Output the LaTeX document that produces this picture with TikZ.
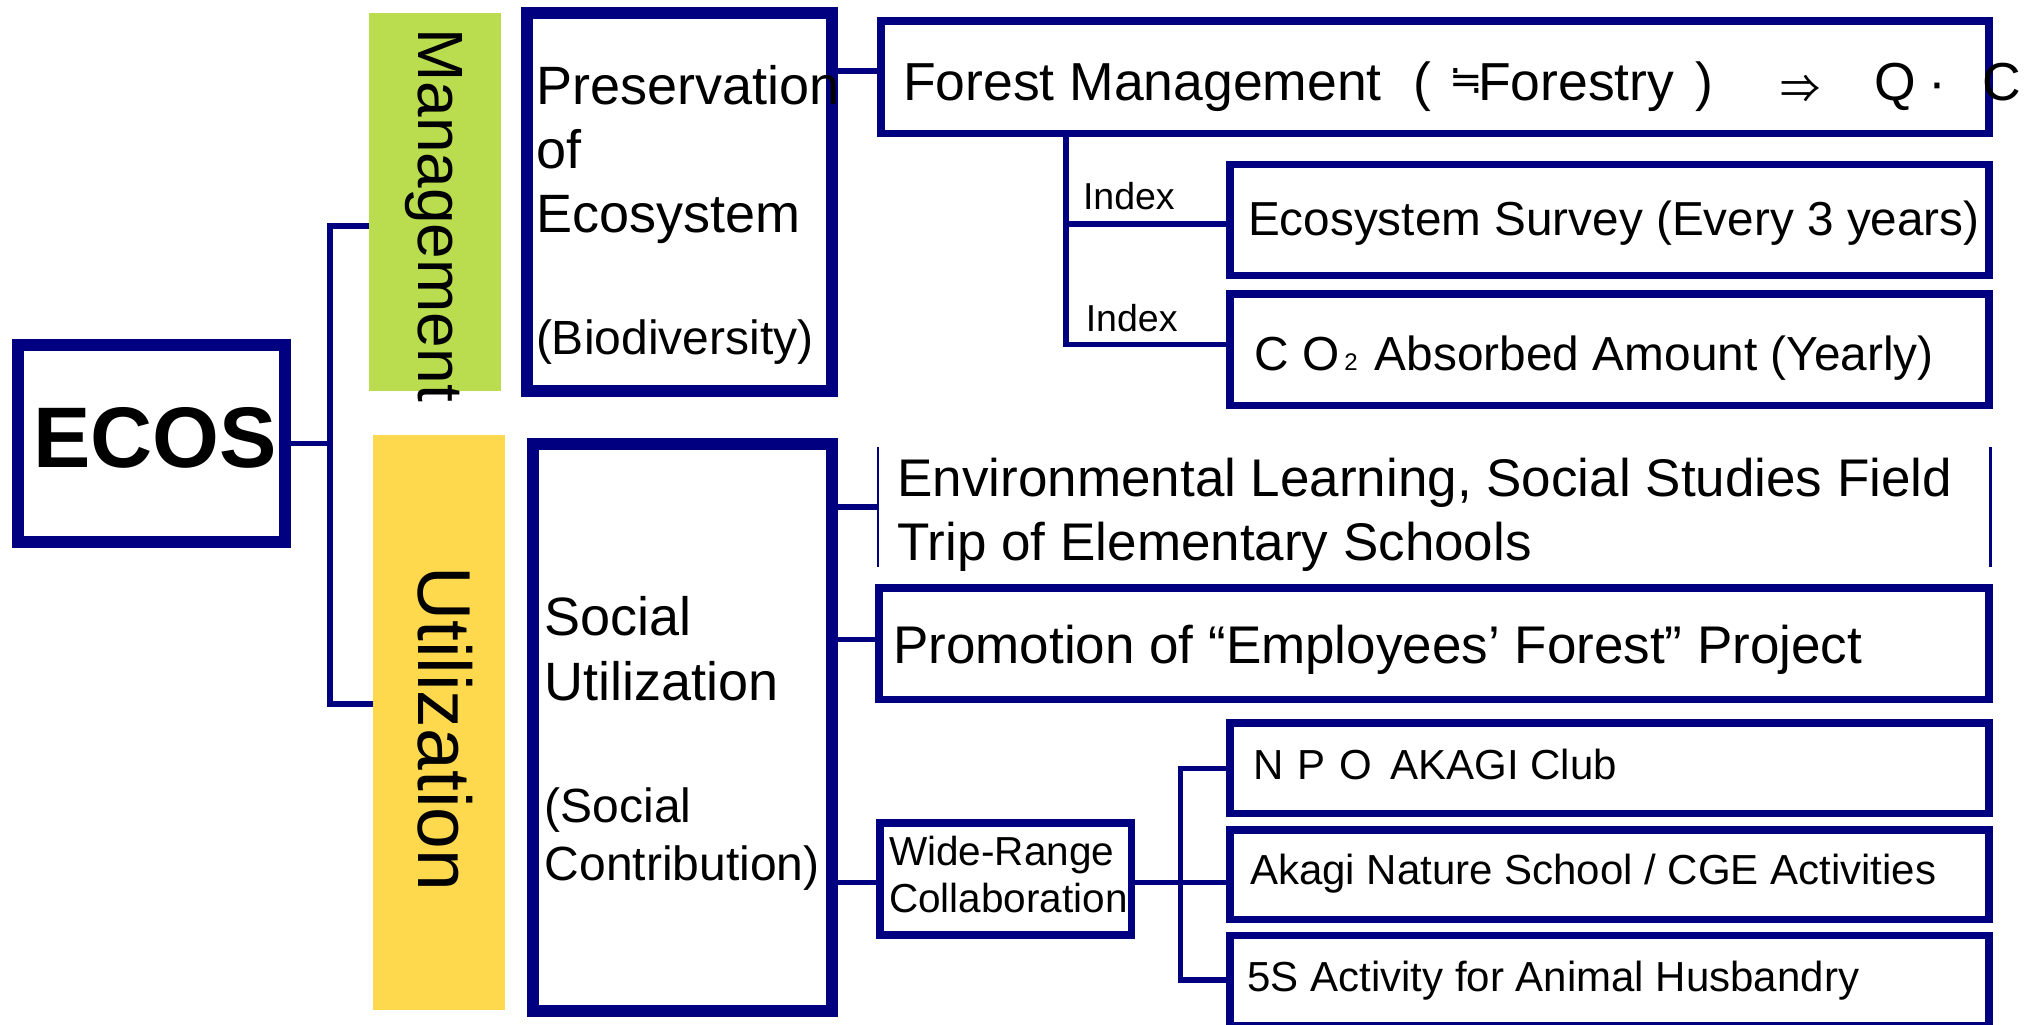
\documentclass[tikz,border=0pt]{standalone}
\usepackage{fontspec}
\setmainfont{Liberation Sans}
\newfontfamily\cjkjp{Noto Sans CJK JP}
\newfontfamily\djv{DejaVu Sans}
\newlength\px
\setlength\px{0.01cm}
\newcommand\fsz[1]{\fontsize{#1\px}{#1\px}\selectfont}
\newcommand\placebox[6]{\node[#1, minimum width={(#5-#3)*\px}, minimum height={(#6-#4)*\px}] (#2) at ({(#3+#5)/2},{(#4+#6)/2}) {};}
\definecolor{navy}{RGB}{0,0,128}
\definecolor{mgreen}{RGB}{185,221,78}
\definecolor{uyellow}{RGB}{255,217,77}
\tikzset{
  thickbox/.style={draw=navy, fill=white, line width=12\px, inner sep=0, outer sep=0},
  thinbox/.style={draw=navy, fill=white, line width=7.5\px, inner sep=0, outer sep=0},
  band/.style={inner sep=0, outer sep=0},
  conn/.style={draw=navy, line width=5.5\px},
  txt/.style={anchor=base west, inner sep=0, outer sep=0, text=black},
}
\begin{document}
\begin{tikzpicture}[x=0.01cm, y=-0.01cm]
\useasboundingbox (0,0) rectangle (2028,1024);
\fill[white] (0,0) rectangle (2028,1024);
\clip (0,0) rectangle (2028,1024);

% coloured bands
\placebox{band, fill=mgreen}{mg}{369}{13.3}{501}{390.7}
\placebox{band, fill=uyellow}{ut}{372.7}{435}{505}{1010}

% junction points
\coordinate (jtop) at (330,226);
\coordinate (jbot) at (330,704);
\coordinate (pf) at (860,71);
\coordinate (jes) at (1066,224);
\coordinate (jfm) at (1066,344.3);
\coordinate (jprom) at (856,639.3);
\coordinate (jw) at (1180.7,882.7);
\coordinate (jnpo) at (1180.7,768.3);
\coordinate (j5s) at (1180.7,980);

% boxes
\placebox{thickbox}{ecos}{18}{345}{285}{542}
\placebox{thickbox}{pres}{527}{12.7}{831.7}{390.7}
\placebox{thickbox}{soc}{532.7}{444}{831.7}{1010.5}
\placebox{thinbox}{fm}{880.75}{21}{1988.75}{133.5}
\placebox{thinbox}{es}{1229.75}{164.5}{1988.75}{275.5}
\placebox{thinbox}{co2}{1229.75}{293.75}{1988.75}{405.5}
\placebox{thinbox}{prom}{878.75}{587.75}{1988.75}{699.25}
\placebox{thinbox}{wide}{879.75}{822.75}{1131.25}{935}
\placebox{thinbox}{npo}{1229.75}{723}{1988.75}{813.25}
\placebox{thinbox}{akagi}{1229.75}{829.75}{1988.75}{919.5}
\placebox{thinbox}{s5}{1229.75}{935.5}{1988.75}{1025.75}
\placebox{band}{env}{878.3}{447}{1990.5}{567}
\draw[navy, line width=1.8\px] (env.north west) -- (env.south west);
\draw[navy, line width=3.7\px] (env.north east) -- (env.south east);

% connectors
\draw[conn] (ecos.east) -- (ecos.east -| jtop);
\draw[conn] (jtop -| mg.west) -- (jtop) -- (jbot) -- (jbot -| ut.west);
\draw[conn] (pf -| pres.east) -- (pf -| fm.west);
\draw[conn] (fm.south -| jfm) -- (jfm) -- (jfm -| co2.west);
\draw[conn] (jes) -- (jes -| es.west);
\draw[conn] (env.west -| soc.east) -- (env.west);
\draw[conn] (jprom -| soc.east) -- (jprom -| prom.west);
\draw[conn] (jw -| soc.east) -- (jw -| wide.west);
\draw[conn] (jw -| wide.east) -- (jw -| akagi.west);
\draw[conn] (jnpo -| npo.west) -- (jnpo) -- (j5s) -- (j5s -| s5.west);

% texts
\node[txt, font=\bfseries\fsz{86}] (ecos-t) at (33,467) {ECOS};
\node[txt, font=\fsz{64}, rotate=-90] (mg-t) at (418.3,28.3) {Management};
\node[txt, font=\fsz{75}, rotate=-90] (ut-t) at (418.3,566) {Utilization};
\node[txt, font=\fsz{54}] (pres-t) at (536,104) {\vtop{\lineskiplimit=-\maxdimen\baselineskip=64\px
  \hbox{Preservation}\hbox{of}\hbox{Ecosystem}\vskip58\px\hbox{\fsz{48}(Biodiversity)}}};
\node[txt, font=\fsz{54}] (soc-t) at (544.8,635.7) {\vtop{\lineskiplimit=-\maxdimen\baselineskip=64.3\px
  \hbox{Social}\hbox{Utilization}\vskip64.7\px\baselineskip=57.8\px
  \hbox{\fsz{48}(Social}\hbox{\fsz{48}Contribution)}}};
\node[txt, font=\fsz{53.5}] (fm-t) at (903,100) {\rlap{Forest Management}%
  \rlap{\hspace{510.8\px}(}%
  \rlap{\hspace{563\px}\makebox[0pt]{\raisebox{6\px}{\djv\fsz{40}≒}}}%
  \rlap{\hspace{575\px}Forestry}%
  \rlap{\hspace{792.4\px})}%
  \rlap{\hspace{897\px}\makebox[0pt]{\raisebox{-4\px}{\cjkjp\fsz{40}⇒}}}%
  \rlap{\hspace{971.5\px}Q}%
  \rlap{\hspace{1034\px}\makebox[0pt]{·}}%
  \hspace{1079.3\px}C};
\node[txt, font=\fsz{37.5}] (ix1) at (1083,209.3) {Index};
\node[txt, font=\fsz{37.5}] (ix2) at (1085.8,331) {Index};
\node[txt, font=\fsz{47.7}] (es-t) at (1248,235) {Ecosystem Survey (Every 3 years)};
\node[txt, font=\fsz{47.8}] (co2-t) at (1254.3,370) {C O\hspace{5\px}{\fsz{24}2}\hspace{4\px} Absorbed Amount (Yearly)};
\node[txt, font=\fsz{53}] (env-t) at (897.5,496.7) {\vtop{\lineskiplimit=-\maxdimen\baselineskip=64\px
  \hbox{Environmental Learning, Social Studies Field}\hbox{Trip of Elementary Schools}}};
\node[txt, font=\fsz{53}] (prom-t) at (893.2,663.3) {Promotion of “Employees’ Forest” Project};
\node[txt, font=\fsz{40.5}] (wide-t) at (889,865.7) {\vtop{\lineskiplimit=-\maxdimen\baselineskip=47\px
  \hbox{Wide-Range}\hbox{Collaboration}}};
\node[txt, font=\fsz{42}] (npo-t) at (1253.5,779) {N\hspace{14\px}P\hspace{14\px}O\hspace{18\px}AKAGI Club};
\node[txt, font=\fsz{42}] (akagi-t) at (1250,884) {Akagi Nature School / CGE Activities};
\node[txt, font=\fsz{42}] (s5-t) at (1247.5,991.7) {5S Activity for Animal Husbandry};
\end{tikzpicture}
\end{document}
